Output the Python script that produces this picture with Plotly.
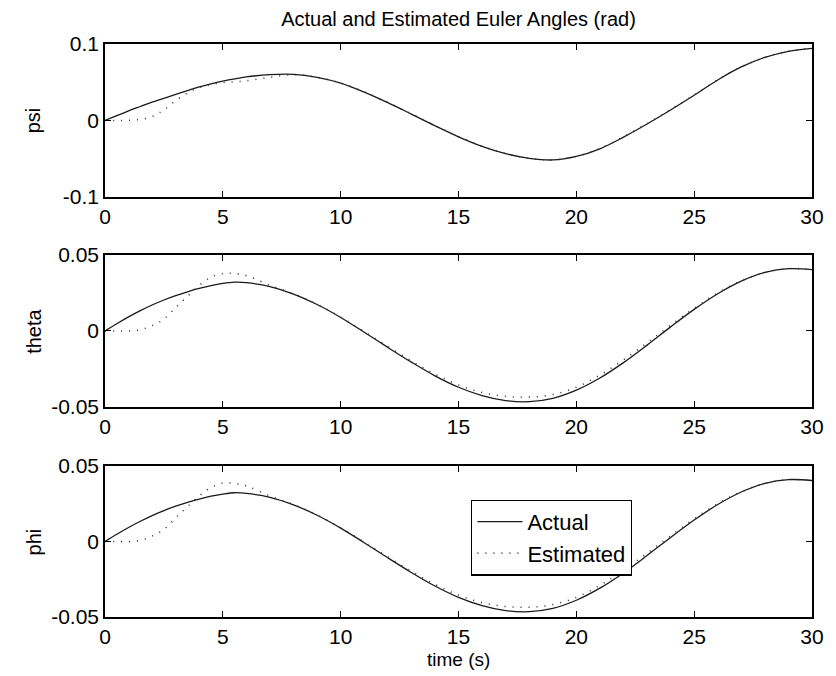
import plotly.graph_objects as go

# time samples (s)
time = [0, 0.5, 1, 1.5, 2, 2.5, 3, 3.5, 4, 4.5, 5, 5.5, 6, 7, 8, 9, 10, 11, 12, 13, 14, 15,
        16, 17, 18, 19, 20, 21, 22, 23, 24, 25, 26, 27, 28, 29, 30]

psi_actual = [0, 0.0063, 0.0125, 0.0183, 0.024, 0.029, 0.034, 0.039, 0.044, 0.048, 0.0515, 0.0545,
              0.0570, 0.0600, 0.0604, 0.0565, 0.0490, 0.0372, 0.0234, 0.0084, -0.0069, -0.0213,
              -0.0338, -0.0434, -0.0495, -0.0516, -0.0470, -0.0370, -0.0217, -0.0045, 0.0138, 0.0330,
              0.0530, 0.0700, 0.0825, 0.0905, 0.0944]
psi_est = [0, 0.0, 0.0003, 0.0015, 0.005, 0.014, 0.026, 0.036, 0.043, 0.047, 0.0495, 0.0505,
           0.0520, 0.0565, 0.0600, 0.0565, 0.0490, 0.0374, 0.0236, 0.0088, -0.0066, -0.0210,
           -0.0336, -0.0432, -0.0494, -0.0515, -0.0468, -0.0366, -0.0213, -0.0042, 0.0142, 0.0334,
           0.0532, 0.0701, 0.0825, 0.0905, 0.0944]

theta_actual = [0, 0.0048, 0.0093, 0.0134, 0.0171, 0.0204, 0.0233, 0.0258, 0.0280, 0.0299, 0.0313, 0.0321,
                0.0318, 0.0292, 0.0243, 0.0174, 0.0089, -0.0008, -0.0108, -0.0205, -0.0295, -0.0370,
                -0.0425, -0.0458, -0.0465, -0.0443, -0.0389, -0.0309, -0.0208, -0.0093, 0.0027, 0.0142,
                0.0245, 0.0328, 0.0385, 0.0410, 0.0404]
theta_est = [0, 0.0, 0.0, 0.0008, 0.0035, 0.0078, 0.0155, 0.0228, 0.0300, 0.0355, 0.0378, 0.0378,
             0.0364, 0.0300, 0.0245, 0.0176, 0.0091, -0.0004, -0.0102, -0.0197, -0.0284, -0.0355,
             -0.0405, -0.0430, -0.0435, -0.0418, -0.0370, -0.0290, -0.0190, -0.0078, 0.0038, 0.0150,
             0.0250, 0.0330, 0.0385, 0.0410, 0.0404]

phi_actual = [0, 0.0048, 0.0093, 0.0134, 0.0172, 0.0205, 0.0234, 0.0259, 0.0281, 0.0300, 0.0314, 0.0323,
              0.0319, 0.0293, 0.0243, 0.0174, 0.0089, -0.0008, -0.0108, -0.0205, -0.0295, -0.0370,
              -0.0425, -0.0458, -0.0465, -0.0443, -0.0389, -0.0309, -0.0208, -0.0093, 0.0027, 0.0142,
              0.0245, 0.0328, 0.0385, 0.0410, 0.0404]
phi_est = [0, 0.0, 0.0, 0.0008, 0.0036, 0.0080, 0.0157, 0.0230, 0.0302, 0.0357, 0.0388, 0.0385,
           0.0368, 0.0302, 0.0245, 0.0176, 0.0091, -0.0004, -0.0102, -0.0197, -0.0284, -0.0355,
           -0.0405, -0.0430, -0.0435, -0.0418, -0.0370, -0.0290, -0.0190, -0.0078, 0.0038, 0.0150,
           0.0250, 0.0330, 0.0385, 0.0410, 0.0404]

panel_names = ["psi", "theta", "phi"]
y_ranges = [[-0.1, 0.1], [-0.05, 0.05], [-0.05, 0.05]]
y_ticks = [[-0.1, 0, 0.1], [-0.05, 0, 0.05], [-0.05, 0, 0.05]]
y_ticktext = [["-0.1", "0", "0.1"], ["-0.05", "0", "0.05"], ["-0.05", "0", "0.05"]]
x_ticks = [0, 5, 10, 15, 20, 25, 30]
series = [(psi_actual, psi_est), (theta_actual, theta_est), (phi_actual, phi_est)]

FONT = "Liberation Sans, Arial, Helvetica, sans-serif"
domains = [[0.733, 1.0], [0.3665, 0.6318], [0.0, 0.2635]]

fig = go.Figure()
for i, (act, est) in enumerate(series):
    ax = "" if i == 0 else str(i + 1)
    fig.add_trace(go.Scatter(x=time, y=act, mode="lines", name="Actual",
                             line=dict(color="#1a1a1a", width=1.3, shape="spline", smoothing=1.0),
                             xaxis="x" + ax, yaxis="y" + ax, showlegend=(i == 2)))
    fig.add_trace(go.Scatter(x=time, y=est, mode="lines", name="Estimated",
                             line=dict(color="#333333", width=1.6, dash="1px,7px", shape="spline", smoothing=1.0),
                             xaxis="x" + ax, yaxis="y" + ax, showlegend=(i == 2)))

axis_common = dict(showline=True, linecolor="black", linewidth=1.5, mirror="ticks",
                   ticks="inside", ticklen=6, tickcolor="black", tickwidth=1.2,
                   showgrid=False, zeroline=False, tickfont=dict(family=FONT, size=21, color="black"))
layout = dict()
for i in range(3):
    key = "" if i == 0 else str(i + 1)
    layout["xaxis" + key] = dict(axis_common, range=[0, 30], tickvals=x_ticks,
                                 anchor="y" + key, domain=[0, 1])
    layout["yaxis" + key] = dict(axis_common, range=y_ranges[i], tickvals=y_ticks[i],
                                 ticktext=y_ticktext[i], anchor="x" + key, domain=domains[i])

annotations = []
for i, name in enumerate(panel_names):
    d = domains[i]
    annotations.append(dict(text=name, xref="paper", yref="paper", x=-0.1006, y=(d[0] + d[1]) / 2,
                            textangle=-90, showarrow=False, xanchor="center", yanchor="middle",
                            font=dict(family=FONT, size=20, color="black")))
annotations.append(dict(text="time (s)", xref="paper", yref="paper", x=0.5, y=-0.0735,
                        showarrow=False, xanchor="center", yanchor="middle",
                        font=dict(family=FONT, size=19, color="black")))

fig.update_layout(
    **layout,
    width=836, height=676,
    margin=dict(l=105, r=15, t=44, b=59),
    paper_bgcolor="white", plot_bgcolor="white",
    title=dict(text="Actual and Estimated Euler Angles (rad)", x=0.5, xref="paper",
               y=1 - 19 / 676, yref="container", xanchor="center", yanchor="middle",
               font=dict(family=FONT, size=20, color="black")),
    annotations=annotations,
    legend=dict(x=0.518, y=0.205, xanchor="left", yanchor="top", bordercolor="black",
                borderwidth=1.2, bgcolor="white", font=dict(family=FONT, size=22, color="black"),
                tracegroupgap=0, itemwidth=45),
    showlegend=True,
)

fig.write_html("out.html")
